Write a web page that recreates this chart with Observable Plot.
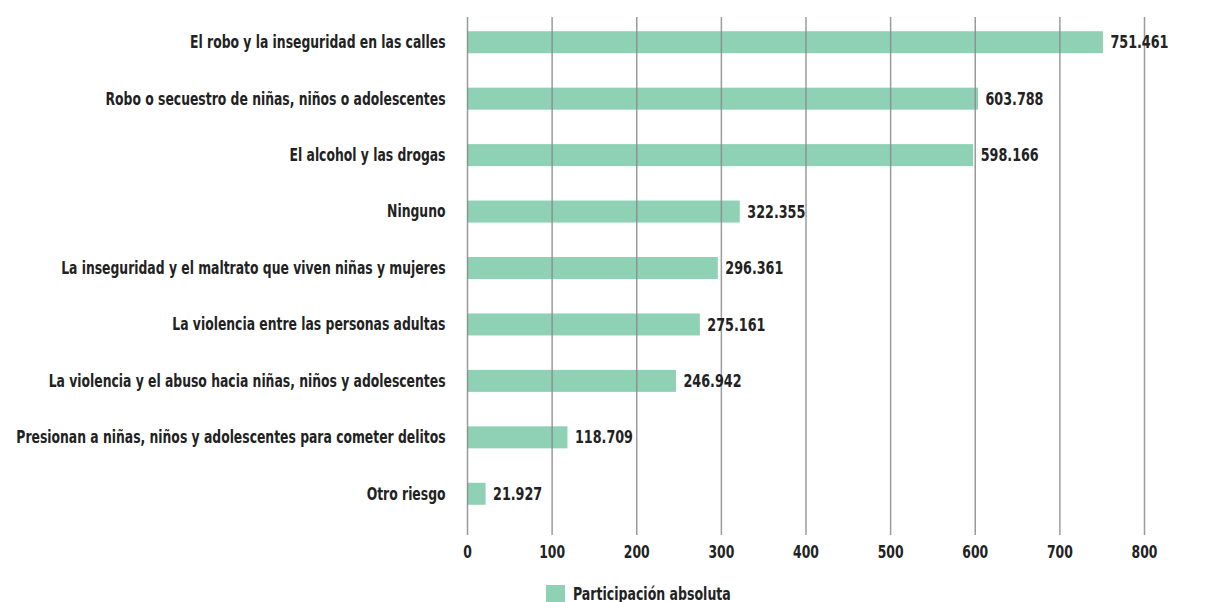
<!DOCTYPE html>
<html>
<head>
<meta charset="utf-8">
<script src="https://cdn.jsdelivr.net/npm/d3@7"></script>
<script src="https://cdn.jsdelivr.net/npm/@observablehq/plot@0.6"></script>
<style>
  html, body { margin: 0; padding: 0; background: #fff; }
  body { width: 1216px; height: 602px; overflow: hidden; font-family: "DejaVu Sans Condensed", "Liberation Sans Narrow", sans-serif; }
  #chart svg { display: block; }
  .legend { display: flex; align-items: center; margin-top: 14px; padding-left: 546px; font-weight: bold; font-size: 17px; color: #222; }
  .legend .sw { width: 19px; height: 18px; background: #8fd1b5; margin-right: 8px; flex: none; }
  .legend .lbl { display: inline-block; transform: scaleX(0.82); transform-origin: left center; white-space: nowrap; }
</style>
</head>
<body>
<div id="chart"></div>
<div class="legend"><span class="sw"></span><span class="lbl">Participación absoluta</span></div>
<script>
const categories = [
  "El robo y la inseguridad en las calles",
  "Robo o secuestro de niñas, niños o adolescentes",
  "El alcohol y las drogas",
  "Ninguno",
  "La inseguridad y el maltrato que viven niñas y mujeres",
  "La violencia entre las personas adultas",
  "La violencia y el abuso hacia niñas, niños y adolescentes",
  "Presionan a niñas, niños y adolescentes para cometer delitos",
  "Otro riesgo"
];
const values = [751.461, 603.788, 598.166, 322.355, 296.361, 275.161, 246.942, 118.709, 21.927];
const valueLabels = ["751.461", "603.788", "598.166", "322.355", "296.361", "275.161", "246.942", "118.709", "21.927"];
const xTicks = [0, 100, 200, 300, 400, 500, 600, 700, 800];

const data = categories.map((c, i) => ({category: c, value: values[i], label: valueLabels[i]}));
const font = '"DejaVu Sans Condensed", "Liberation Sans Narrow", sans-serif';

const chart = Plot.plot({
  width: 1216,
  height: 570,
  marginLeft: 467,
  marginRight: 72,
  marginTop: 14,
  marginBottom: 48,
  style: {fontFamily: font, fontSize: "17px", fontWeight: "bold", color: "#222", background: "#fff"},
  x: {domain: [0, 800], ticks: xTicks, label: null},
  y: {domain: categories, paddingInner: 0.61, paddingOuter: 0.305, round: false, label: null},
  marks: [
    Plot.barX(data, {y: "category", x: "value", fill: "#8fd1b5"}),
    Plot.ruleX(xTicks, {stroke: "#8a8a8e", strokeWidth: 1.5, strokeOpacity: 0.85, insetTop: 3, insetBottom: -13}),
    Plot.text(data, {y: "category", x: "value", text: "label", textAnchor: "start", dx: 7, fill: "#222", fontSize: 17.5, fontWeight: "bold"}),
    Plot.axisX({ticks: xTicks, tickSize: 0, tickPadding: 23, tickFormat: d => String(d), fontSize: 17, fontWeight: "bold", fill: "#222"}),
    Plot.axisY({tickSize: 0, tickPadding: 22, fontSize: 17, fontWeight: "bold", fill: "#222"})
  ]
});

// condense all chart text horizontally around its anchor point (keep vertical em offsets)
d3.select(chart).selectAll("text").each(function() {
  const t = d3.select(this);
  const xa = t.attr("x");
  const x = xa != null && !isNaN(+xa) ? +xa : 0;
  const tr = t.attr("transform") || "";
  t.attr("x", null).attr("transform", `${tr} translate(${x},0) scale(0.81,1)`);
});

document.getElementById("chart").appendChild(chart);
</script>
</body>
</html>
